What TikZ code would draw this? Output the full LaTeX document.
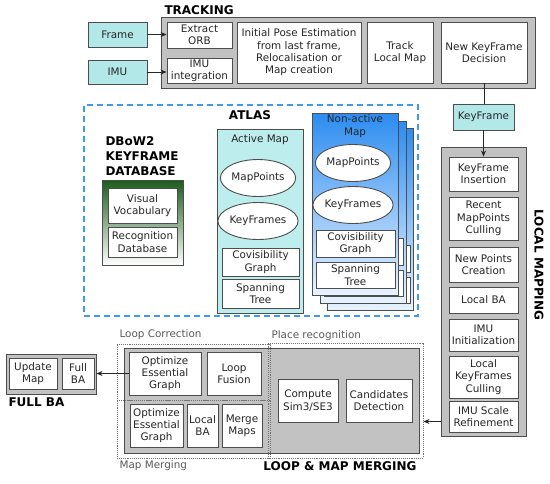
\documentclass[tikz,border=0pt]{standalone}
\usepackage{fontspec}
\setmainfont{DejaVu Sans}
\usetikzlibrary{arrows.meta,shapes.geometric}
\definecolor{cyanbox}{HTML}{B3E8E8}
\definecolor{activefill}{HTML}{BDEDEC}
\definecolor{grayfill}{HTML}{C2C2C2}
\definecolor{edge}{HTML}{4D4D4D}
\definecolor{dbgreen}{HTML}{1A5C1A}
\definecolor{nablue}{HTML}{2C8CF0}
\definecolor{nalight}{HTML}{E8F3FF}
\definecolor{atlasblue}{HTML}{3C9BEF}
\newcommand\lblfont{\fontsize{10.4}{12.3}\selectfont}
\newcommand\ttlfont{\fontsize{12}{15}\selectfont\bfseries}
\newcommand\mybox[7][]{\node[wbox,#1,minimum width={(#5)-(#3)},minimum height={(#6)-(#4)}] (#2) at ({((#3)+(#5))/2},{((#4)+(#6))/2}) {#7};}
\begin{document}
\begin{tikzpicture}[x=1pt,y=-1pt,
  every node/.style={font=\lblfont,text=black!85,align=center},
  wbox/.style={draw=edge,fill=white,line width=0.9pt,inner sep=0pt},
  gbox/.style={draw=edge,fill=grayfill,line width=1pt},
  cyanb/.style={fill=cyanbox},
  activeb/.style={fill=activefill},
  dbbox/.style={top color=dbgreen,bottom color=white,draw=edge},
  nabox/.style={top color=nablue,bottom color=nalight,draw=edge},
  atlasb/.style={fill=none,draw=atlasblue,line width=1.6pt,dash pattern=on 6pt off 4pt},
  dotbox/.style={fill=none,draw=black!55,line width=0.9pt,densely dotted},
  ell/.style={ellipse,draw=edge,fill=white,line width=0.9pt,minimum width=73pt,minimum height=37pt,inner sep=0pt},
  ttl/.style={font=\ttlfont,text=black},
  sub/.style={text=black!65},
  arr/.style={draw=black!85,line width=1pt,-{Stealth[length=6pt,width=5pt]}},
  plain/.style={draw=black!85,line width=1pt}]
\useasboundingbox (0,0) rectangle (550,483);
% TRACKING
\mybox[gbox]{trk}{161}{17}{535}{88}{}
\node[ttl,anchor=west] (trkt) at (161,10) {TRACKING};
\mybox[cyanb]{frame}{88}{22}{147}{47}{Frame}
\mybox[cyanb]{imu}{88}{60}{147}{84}{IMU}
\mybox{orb}{167}{22}{232}{48}{Extract\\ORB}
\mybox{imuint}{167}{58}{232}{83}{IMU\\integration}
\mybox{ipe}{237}{22}{361}{83}{Initial Pose Estimation\\from last frame,\\Relocalisation or\\Map creation}
\mybox{tlm}{367}{22}{433}{83}{Track\\Local Map}
\mybox{nkf}{441}{22}{527}{83}{New KeyFrame\\Decision}
% ATLAS
\mybox[atlasb]{atlas}{84}{105}{418}{316}{}
\node[ttl] (atlast) at (250,115) {ATLAS};
\node[ttl,align=left,anchor=west] (dbt) at (102,156) {DBoW2\\KEYFRAME\\DATABASE};
\mybox[dbbox]{dbow}{102}{180}{183}{265}{}
\mybox{vv}{108}{188}{177}{223}{Visual\\Vocabulary}
\mybox{rdb}{108}{227}{177}{257}{Recognition\\Database}
% Active map
\mybox[activeb]{am}{217}{129}{303}{313}{}
\node (amt) at (260,140) {Active Map};
\node[ell] (amp) at (258,178) {MapPoints};
\node[ell] (akf) at (258,221) {KeyFrames};
\mybox{acg}{222}{248}{299}{276}{Covisibility\\Graph}
\mybox{ast}{222}{279}{299}{308}{Spanning\\Tree}
% Non-active maps
\foreach \d in {15,8}{
  \mybox[nabox]{na\d}{312+\d}{113+\d}{398+\d}{295+\d}{}
  \mybox{ncg\d}{316+\d}{230+\d}{395+\d}{257+\d}{}
  \mybox{nst\d}{316+\d}{262+\d}{395+\d}{288+\d}{}
}
\mybox[nabox]{na}{312}{113}{398}{295}{}
\node (nat) at (355,126) {Non-active\\Map};
\node[ell] (nmp) at (353,163) {MapPoints};
\node[ell] (nkfs) at (353,205) {KeyFrames};
\mybox{ncg}{316}{230}{395}{257}{Covisibility\\Graph}
\mybox{nst}{316}{262}{395}{288}{Spanning\\Tree}
% KeyFrame + Local mapping
\mybox[cyanb]{kf}{453}{104}{514}{130}{KeyFrame}
\mybox[gbox]{lm}{441}{147}{526}{436}{}
\mybox{kfi}{449}{157}{518}{191}{KeyFrame\\Insertion}
\mybox{rmc}{449}{197}{518}{240}{Recent\\MapPoints\\Culling}
\mybox{npc}{449}{247}{518}{282}{New Points\\Creation}
\mybox{lba}{449}{287}{518}{313}{Local BA}
\mybox{imui}{449}{319}{518}{351}{IMU\\Initialization}
\mybox{lkc}{449}{356}{518}{398}{Local\\KeyFrames\\Culling}
\mybox{isr}{449}{401}{518}{432}{IMU Scale\\Refinement}
\node[ttl,rotate=-90] (lmt) at (539,265) {LOCAL MAPPING};
% Loop & map merging
\mybox[gbox]{lpbox}{124}{348}{419}{453}{}
\mybox[dotbox]{lc}{117}{344}{270}{400}{}
\mybox[dotbox]{mm}{117}{400}{270}{458}{}
\mybox[dotbox]{pr}{268}{343}{423}{458}{}
\node[sub,anchor=west] (lct) at (116,335) {Loop Correction};
\node[sub,anchor=west] (mmt) at (116,466) {Map Merging};
\node[sub,anchor=west] (prt) at (268,336) {Place recognition};
\mybox{opt1}{129}{352}{201}{395}{Optimize\\Essential\\Graph}
\mybox{lf}{207}{352}{261}{395}{Loop\\Fusion}
\mybox{opt2}{130}{404}{183}{447}{Optimize\\Essential\\Graph}
\mybox{lba2}{187}{404}{218}{447}{Local\\BA}
\mybox{mgm}{222}{404}{262}{447}{Merge\\Maps}
\mybox{sim}{278}{379}{338}{422}{Compute\\Sim3/SE3}
\mybox{cd}{346}{379}{412}{422}{Candidates\\Detection}
\node[ttl,anchor=east] (lmmt) at (420,466) {LOOP \& MAP MERGING};
% Full BA
\mybox[gbox]{fba}{6}{354}{96}{394}{}
\mybox{um}{9}{358}{57}{389}{Update\\Map}
\mybox{fb}{62}{358}{94}{389}{Full\\BA}
\node[ttl,anchor=west] (fbat) at (5,402) {FULL BA};
% connectors
\coordinate (israrr) at ([yshift=-5pt]isr.west);
\draw[arr] (frame.east) -- (frame.east -| orb.west);
\draw[arr] (imu.east) -- (imu.east -| imuint.west);
\draw[plain] (nkf.south) -- (nkf.south |- kf.north);
\draw[arr] (kf.south) -- (kf.south |- kfi.north);
\draw[arr] (lm.west |- israrr) -- (pr.east |- israrr);
\draw[arr] (opt1.west) -- (opt1.west -| fba.east);
\end{tikzpicture}
\end{document}
